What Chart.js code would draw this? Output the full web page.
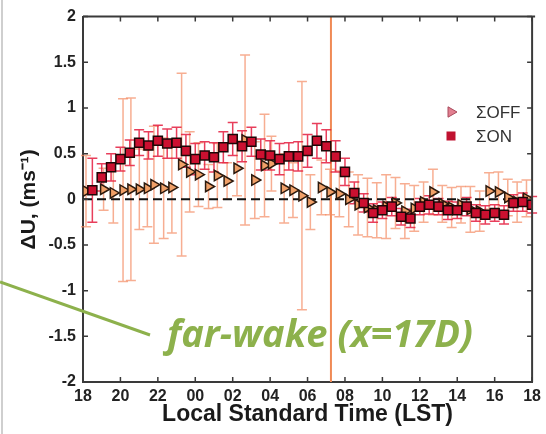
<!DOCTYPE html>
<html><head><meta charset="utf-8">
<script src="https://cdn.jsdelivr.net/npm/chart.js@4/dist/chart.umd.min.js"></script>
<style>html,body{margin:0;padding:0;background:#fff;}#wrap{width:546px;height:434px;position:relative;}</style>
</head><body><div id="wrap"><canvas id="c" width="546" height="434"></canvas></div>
<script>
// ---- data (hours since 00:00 of first day; 24+ = next morning) ----
const xTickValues = [18,20,22,24,26,28,30,32,34,36,38,40,42];
const xTickLabels = ['18','20','22','00','02','04','06','08','10','12','14','16','18'];
const yTickValues = [-2,-1.5,-1,-0.5,0,0.5,1,1.5,2];
const yTickLabels = ['-2','-1.5','-1','-0.5','0','0.5','1','1.5','2'];

const onTimes = [18.5,19.0,19.5,20.0,20.5,21.0,21.5,22.0,22.5,23.0,23.5,24.0,24.5,25.0,25.5,26.0,26.5,27.0,27.5,28.0,28.5,29.0,29.5,30.0,30.5,31.0,31.5,32.0,32.5,33.0,33.5,34.0,34.5,35.0,35.5,36.0,36.5,37.0,37.5,38.0,38.5,39.0,39.5,40.0,40.5,41.0,41.5,42.0];
const onValues = [0.10,0.24,0.35,0.44,0.51,0.62,0.59,0.64,0.61,0.62,0.53,0.44,0.48,0.46,0.57,0.66,0.58,0.63,0.49,0.48,0.44,0.47,0.47,0.53,0.64,0.58,0.47,0.30,0.07,-0.04,-0.15,-0.12,-0.08,-0.19,-0.21,-0.08,-0.06,-0.08,-0.12,-0.12,-0.08,-0.15,-0.17,-0.15,-0.17,-0.04,-0.03,-0.06];
const onErrors = [0.35,0.15,0.15,0.13,0.14,0.14,0.15,0.17,0.16,0.17,0.18,0.17,0.15,0.16,0.17,0.18,0.17,0.16,0.17,0.16,0.17,0.15,0.16,0.18,0.19,0.18,0.17,0.15,0.12,0.10,0.10,0.09,0.10,0.09,0.10,0.09,0.10,0.09,0.10,0.09,0.10,0.09,0.10,0.09,0.10,0.09,0.10,0.09];

const offTimes = [18.16,19.10,19.62,20.14,20.56,21.01,21.44,21.79,22.31,22.75,23.27,23.70,24.17,24.71,25.18,25.70,26.23,26.66,27.18,27.70,28.07,28.75,29.22,29.70,30.15,30.74,31.20,31.70,32.20,32.70,33.20,33.70,34.20,34.70,35.20,35.70,36.20,36.70,37.20,37.70,38.20,38.70,39.20,39.70,40.20,40.70,41.20,41.70];
const offValues = [0.09,0.11,0.07,0.10,0.11,0.11,0.12,0.16,0.12,0.13,0.38,0.30,0.27,0.14,0.26,0.20,0.34,0.65,0.21,0.37,0.39,0.12,0.10,0.04,-0.03,0.13,0.08,0.06,0.00,-0.06,-0.09,-0.12,-0.08,-0.04,-0.13,-0.10,-0.03,0.08,-0.05,-0.09,-0.06,-0.11,-0.13,0.09,0.08,0.02,-0.03,0.01];
const offErrors = [0.39,0.23,0.33,1.00,1.00,0.44,0.42,0.64,0.55,0.50,1.00,0.44,0.35,0.24,0.35,0.20,0.30,0.93,0.42,0.56,0.30,0.38,0.30,1.25,0.30,0.30,0.25,0.25,0.30,0.33,0.32,0.30,0.35,0.28,0.30,0.25,0.22,0.25,0.20,0.22,0.20,0.25,0.22,0.20,0.22,0.20,0.22,0.20];

const sunriseTime = 31.25;
const seriesNames = ['\u03A3OFF','\u03A3ON'];
const annotationText = 'far-wake (x=17D)';

const ON_FILL = '#cc1030', ON_EDGE = '#1c0606', ON_BAR = 'rgba(228,28,62,0.85)';
const OFF_FILL = '#f0a068', OFF_EDGE = '#2c1a0e', OFF_BAR = 'rgba(244,140,100,0.7)';
const AXIS = '#3a3a3a';

const decor = {
  id: 'decor',
  beforeDatasetsDraw(chart) {
    const {ctx, chartArea: a, scales: {x, y}} = chart;
    ctx.save();
    // faint page border at far left
    ctx.strokeStyle = '#cfcfcf'; ctx.lineWidth = 2;
    ctx.beginPath(); ctx.moveTo(2, 0); ctx.lineTo(2, 434); ctx.stroke();
    // sunrise line
    ctx.strokeStyle = '#f08a55'; ctx.lineWidth = 2;
    const sx = x.getPixelForValue(sunriseTime);
    ctx.beginPath(); ctx.moveTo(sx, a.top); ctx.lineTo(sx, a.bottom); ctx.stroke();
    // error bars
    const bars = (times, vals, errs, color) => {
      ctx.strokeStyle = color; ctx.lineWidth = 1.5;
      times.forEach((t, i) => {
        const px = x.getPixelForValue(t);
        const y1 = y.getPixelForValue(vals[i] + errs[i]);
        const y2 = y.getPixelForValue(vals[i] - errs[i]);
        ctx.beginPath();
        ctx.moveTo(px, y1); ctx.lineTo(px, y2);
        ctx.moveTo(px - 5, y1); ctx.lineTo(px + 5, y1);
        ctx.moveTo(px - 5, y2); ctx.lineTo(px + 5, y2);
        ctx.stroke();
      });
    };
    bars(offTimes, offValues, offErrors, OFF_BAR);
    bars(onTimes, onValues, onErrors, ON_BAR);
    // zero dashed line
    ctx.strokeStyle = '#111'; ctx.lineWidth = 2; ctx.setLineDash([9, 5]);
    const zy = y.getPixelForValue(0);
    ctx.beginPath(); ctx.moveTo(a.left, zy); ctx.lineTo(a.right, zy); ctx.stroke();
    ctx.restore();
  },
  afterDraw(chart) {
    const {ctx, chartArea: a, scales: {x, y}} = chart;
    ctx.save();
    // frame top & right
    ctx.strokeStyle = AXIS; ctx.lineWidth = 2;
    ctx.beginPath(); ctx.moveTo(a.left, a.top); ctx.lineTo(a.right + 3, a.top); ctx.stroke();
    ctx.beginPath(); ctx.moveTo(a.right, a.top); ctx.lineTo(a.right, a.bottom); ctx.stroke();
    // inward ticks
    ctx.lineWidth = 1.5;
    xTickValues.forEach(v => {
      const px = x.getPixelForValue(v);
      ctx.beginPath();
      ctx.moveTo(px, a.bottom); ctx.lineTo(px, a.bottom - 5);
      ctx.moveTo(px, a.top); ctx.lineTo(px, a.top + 5);
      ctx.stroke();
    });
    yTickValues.forEach(v => {
      const py = y.getPixelForValue(v);
      ctx.beginPath();
      ctx.moveTo(a.left, py); ctx.lineTo(a.left + 5, py);
      ctx.moveTo(a.right, py); ctx.lineTo(a.right - 5, py);
      ctx.stroke();
    });
    // legend
    const lx = 451, ly1 = 112, ly2 = 136;
    ctx.fillStyle = '#e27f90'; ctx.strokeStyle = '#a84a5c'; ctx.lineWidth = 1;
    ctx.beginPath();
    ctx.moveTo(lx + 6, ly1); ctx.lineTo(lx - 3, ly1 - 5.2); ctx.lineTo(lx - 3, ly1 + 5.2); ctx.closePath();
    ctx.fill(); ctx.stroke();
    ctx.fillStyle = '#c01230';
    ctx.fillRect(lx - 4.5, ly2 - 4.5, 9, 9);
    ctx.fillStyle = '#333'; ctx.font = '17px "Liberation Sans"'; ctx.textBaseline = 'middle'; ctx.textAlign = 'left';
    ctx.fillText(seriesNames[0], 476, ly1 + 1);
    ctx.fillText(seriesNames[1], 476, ly2 + 1);
    // green annotation
    ctx.strokeStyle = '#8db14c'; ctx.lineWidth = 3;
    ctx.beginPath(); ctx.moveTo(0, 282); ctx.lineTo(150, 335); ctx.stroke();
    ctx.fillStyle = '#8db14c';
    ctx.font = 'italic bold 34px "Open Sans"';
    const w = ctx.measureText(annotationText).width;
    const size = 34 * 306 / w;
    ctx.font = 'italic bold ' + size.toFixed(1) + 'px "Open Sans"';
    ctx.textBaseline = 'alphabetic';
    ctx.fillText(annotationText, 167, 347);
    ctx.restore();
  }
};

new Chart(document.getElementById('c'), {
  type: 'scatter',
  data: {
    datasets: [
      { label: seriesNames[1], data: onTimes.map((t, i) => ({x: t, y: onValues[i]})),
        pointStyle: 'rect', pointRadius: 6.4, pointHoverRadius: 6.4,
        backgroundColor: ON_FILL, borderColor: ON_EDGE, borderWidth: 1.5 },
      { label: seriesNames[0], data: offTimes.map((t, i) => ({x: t, y: offValues[i]})),
        pointStyle: 'triangle', rotation: 90, pointRadius: 6, pointHoverRadius: 6,
        backgroundColor: OFF_FILL, borderColor: OFF_EDGE, borderWidth: 1.5 }
    ]
  },
  options: {
    responsive: false, animation: false, devicePixelRatio: 1,
    layout: { padding: {top: 14, right: 3, left: 0, bottom: 0}, autoPadding: false },
    plugins: { legend: {display: false}, tooltip: {enabled: false} },
    scales: {
      x: {
        type: 'linear', min: 18, max: 42,
        grid: { display: false, drawTicks: false },
        border: { display: true, color: AXIS, width: 2 },
        afterBuildTicks: s => { s.ticks = xTickValues.map(v => ({value: v})); },
        afterFit: s => { s.height = 52; },
        ticks: { autoSkip: false, maxRotation: 0, padding: 5, color: '#222',
          font: {family: '"Liberation Sans"', size: 16, weight: 'bold'},
          callback: v => xTickLabels[xTickValues.indexOf(v)] },
        title: { display: true, text: 'Local Standard Time (LST)', color: '#1a1a1a',
          font: {family: '"Liberation Sans"', size: 23, weight: 'bold'}, padding: {top: 0, bottom: 6} }
      },
      y: {
        min: -2, max: 2,
        grid: { display: false, drawTicks: false },
        border: { display: true, color: AXIS, width: 2 },
        afterBuildTicks: s => { s.ticks = yTickValues.map(v => ({value: v})); },
        afterFit: s => { s.width = 83; },
        ticks: { padding: 7, color: '#222',
          font: {family: '"Liberation Sans"', size: 16, weight: 'bold'},
          callback: v => yTickLabels[yTickValues.indexOf(v)] },
        title: { display: true, text: '\u0394U, (ms\u207B\u00B9)', color: '#1a1a1a',
          font: {family: '"Liberation Sans"', size: 21, weight: 'bold'}, padding: {top: 17, bottom: 0} }
      }
    }
  },
  plugins: [decor]
});
</script></body></html>
